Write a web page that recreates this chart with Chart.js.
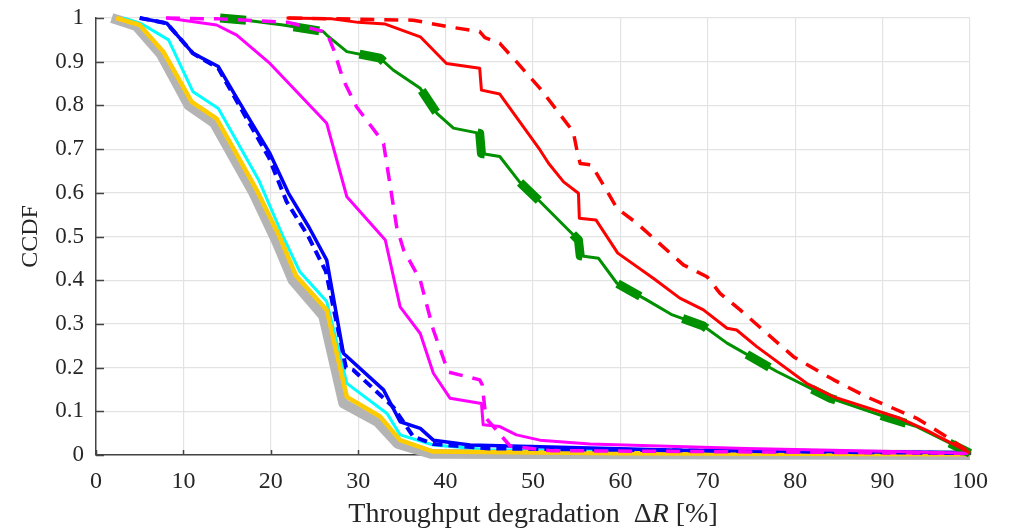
<!DOCTYPE html>
<html>
<head>
<meta charset="utf-8">
<script src="https://cdn.jsdelivr.net/npm/chart.js@4.4.1/dist/chart.umd.min.js"></script>
<style>
  html, body { margin: 0; padding: 0; background: #fff; }
</style>
</head>
<body>
<canvas id="chart" width="1012" height="531"></canvas>
<script>
// CCDF curves, [throughput degradation %, CCDF]
const grayData = [[1.8,1.0],[4.6,0.982],[7.4,0.918],[10.6,0.8],[13.5,0.76],[18.0,0.6],[20.6,0.49],[22.5,0.4],[26.0,0.318],[28.3,0.118],[32.2,0.076],[34.5,0.026],[38.3,0.003],[100,0.0]];
const yellowData = [[2.3,1.0],[5.0,0.984],[7.7,0.923],[10.95,0.808],[13.8,0.77],[18.4,0.606],[21.0,0.5],[22.9,0.41],[26.4,0.332],[28.7,0.133],[32.5,0.088],[34.8,0.034],[38.6,0.008],[60,0.004],[100,0.002]];
const cyanData = [[3.1,1.0],[5.2,0.987],[8.3,0.95],[11.1,0.831],[14.0,0.793],[18.6,0.63],[21.4,0.5],[23.3,0.42],[26.4,0.351],[28.7,0.164],[33.3,0.095],[34.8,0.046],[38.6,0.023],[45,0.012],[100,0.006]];
const blueDashedData = [[5.0,1.0],[8.1,0.988],[11.1,0.919],[14.0,0.885],[16.1,0.81],[19.8,0.68],[21.8,0.58],[24.3,0.5],[26.3,0.42],[28.6,0.2],[29.4,0.195],[34.0,0.11],[36.3,0.042],[38.6,0.025],[45,0.015],[100,0.004]];
const blueData = [[5.0,1.0],[8.1,0.988],[11.1,0.919],[14.0,0.889],[16.1,0.817],[19.9,0.69],[22.0,0.6],[24.4,0.52],[26.4,0.446],[28.3,0.233],[32.9,0.149],[34.8,0.076],[37.1,0.061],[38.6,0.034],[42.8,0.023],[66.8,0.011],[100,0.005]];
const magentaData = [[8.1,1.0],[13.8,0.984],[16.1,0.961],[19.9,0.896],[26.4,0.759],[28.7,0.591],[33.1,0.492],[34.8,0.339],[37.1,0.278],[38.6,0.187],[40.5,0.13],[44.1,0.118],[44.3,0.069],[46.2,0.065],[48.1,0.046],[50.8,0.034],[56.5,0.025],[74.4,0.015],[91.2,0.008],[100,0.004]];
const magentaDashedData = [[8.0,1.0],[14,0.998],[22,0.99],[26.4,0.967],[27.2,0.927],[28.3,0.858],[29.8,0.797],[32.1,0.736],[32.9,0.713],[34.4,0.522],[35.2,0.469],[37.1,0.40],[38.6,0.286],[40.3,0.19],[43.9,0.172],[44.2,0.16],[44.6,0.085],[47.4,0.02],[52,0.01],[100,0.004]];
const greenData = [[14.2,1.0],[17.2,0.995],[21.4,0.984],[26.0,0.969],[26.4,0.961],[28.7,0.923],[32.5,0.908],[34.0,0.881],[37.1,0.839],[39.0,0.782],[40.9,0.748],[43.9,0.736],[44.1,0.69],[46.2,0.683],[48.5,0.624],[50.8,0.58],[55.2,0.492],[55.4,0.456],[57.5,0.45],[59.6,0.393],[63.0,0.355],[65.8,0.322],[69.5,0.295],[72.2,0.256],[77.9,0.191],[84.0,0.13],[90.8,0.084],[93.9,0.065],[97.7,0.027],[100,0.004]];
const redData = [[21.8,1.0],[27,0.998],[30,0.99],[33.1,0.986],[37.1,0.957],[40.1,0.896],[43.9,0.885],[44.1,0.835],[46.2,0.826],[50.8,0.698],[51.8,0.667],[53.5,0.625],[55.2,0.599],[55.3,0.542],[57.2,0.538],[59.7,0.462],[63.8,0.404],[66.8,0.359],[69.5,0.332],[72.2,0.29],[73.3,0.286],[75.6,0.248],[81.3,0.164],[84.4,0.133],[92.0,0.084],[95.0,0.057],[100,0.005]];
const redDashedData = [[22,1.0],[36.3,0.995],[40.3,0.98],[43.9,0.969],[44.5,0.955],[46.2,0.942],[48.1,0.9],[50.8,0.839],[54.6,0.74],[55.1,0.69],[55.4,0.667],[56.7,0.664],[59.6,0.565],[61.9,0.53],[67.2,0.435],[69.9,0.408],[71.4,0.37],[73.7,0.332],[79.8,0.225],[84.4,0.172],[88.2,0.133],[91.2,0.107],[93.9,0.084],[97.3,0.042],[100,0.006]];

const xTicks = [0, 10, 20, 30, 40, 50, 60, 70, 80, 90, 100];
const yTicks = [0, 0.1, 0.2, 0.3, 0.4, 0.5, 0.6, 0.7, 0.8, 0.9, 1];

const serif = "'Liberation Serif', 'DejaVu Serif', serif";

function pts(arr) {
    return arr.map(p => ({ x: p[0], y: p[1] }));
}

function line(data, color, width, dash) {
    return {
        data: pts(data),
        borderColor: color,
        borderWidth: width,
        borderDash: dash || [],
        pointRadius: 0,
        tension: 0,
        fill: false,
        showLine: true,
        clip: 12,
        borderJoinStyle: 'round'
    };
}

// first dataset ends up on top
const datasets = [
    line(redData, '#ff0000', 3),
    line(redDashedData, '#ff0000', 3.5, [14, 10]),
    line(magentaDashedData, '#ff00ff', 3.5, [14, 10]),
    line(greenData, '#009000', 9, [26, 48]),
    line(greenData, '#009000', 3),
    line(magentaData, '#ff00ff', 3),
    line(blueData, '#0000ff', 3.5),
    line(blueDashedData, '#0000ff', 4, [10, 6]),
    line(yellowData, '#ffcc00', 4.5),
    line(cyanData, '#00ffff', 3),
    line(grayData, '#b4b4b4', 10)
];

// small inward tick marks + x title with italic R
const extras = {
    id: 'extras',
    beforeDatasetsDraw(chart) {
        const ctx = chart.ctx;
        const xs = chart.scales.x, ys = chart.scales.y;
        const area = chart.chartArea;
        ctx.save();
        ctx.strokeStyle = '#444';
        ctx.lineWidth = 1.5;
        ctx.beginPath();
        yTicks.forEach(v => {
            const py = Math.round(ys.getPixelForValue(v)) + 0.5;
            ctx.moveTo(area.left, py);
            ctx.lineTo(area.left + 8, py);
        });
        xTicks.forEach(v => {
            const px = Math.round(xs.getPixelForValue(v)) + 0.5;
            ctx.moveTo(px, area.bottom);
            ctx.lineTo(px, area.bottom - 5);
        });
        ctx.stroke();
        ctx.restore();
    },
    afterDraw(chart) {
        const ctx = chart.ctx;
        const area = chart.chartArea;
        const parts = [
            ['Throughput degradation  \u0394', 'normal'],
            ['R', 'italic'],
            [' [%]', 'normal']
        ];
        ctx.save();
        ctx.fillStyle = '#262626';
        ctx.textBaseline = 'middle';
        let total = 0;
        parts.forEach(p => {
            ctx.font = p[1] + ' 28px ' + serif;
            total += ctx.measureText(p[0]).width;
        });
        let x = (area.left + area.right) / 2 - total / 2;
        parts.forEach(p => {
            ctx.font = p[1] + ' 28px ' + serif;
            ctx.fillText(p[0], x, 515);
            x += ctx.measureText(p[0]).width;
        });
        ctx.restore();
    }
};

new Chart(document.getElementById('chart'), {
    type: 'scatter',
    data: { datasets: datasets },
    options: {
        responsive: false,
        animation: false,
        layout: { padding: { left: 0, right: 42, top: 18, bottom: 0 } },
        plugins: {
            legend: { display: false },
            tooltip: { enabled: false }
        },
        scales: {
            x: {
                type: 'linear',
                min: 0,
                max: 100,
                afterFit(scale) { scale.height = 76; scale.paddingLeft = 0; scale.paddingRight = 0; },
                afterBuildTicks(scale) { scale.ticks = xTicks.map(v => ({ value: v })); },
                grid: { color: '#e3e3e3', lineWidth: 1.2, drawTicks: false },
                border: { color: '#444', width: 1.5 },
                ticks: {
                    padding: 12,
                    color: '#262626',
                    font: { family: serif, size: 24 }
                }
            },
            y: {
                type: 'linear',
                min: 0,
                max: 1,
                afterFit(scale) { scale.width = 96; scale.paddingTop = 0; scale.paddingBottom = 0; },
                afterBuildTicks(scale) { scale.ticks = yTicks.map(v => ({ value: v })); },
                grid: { color: '#e3e3e3', lineWidth: 1.2, drawTicks: false },
                border: { color: '#444', width: 1.5 },
                title: {
                    display: true,
                    text: 'CCDF',
                    color: '#262626',
                    font: { family: serif, size: 24 },
                    padding: { top: 16, bottom: 0 }
                },
                ticks: {
                    padding: 12,
                    color: '#262626',
                    font: { family: serif, size: 23 },
                    callback: v => String(Math.round(v * 10) / 10)
                }
            }
        }
    },
    plugins: [extras]
});
</script>
</body>
</html>
